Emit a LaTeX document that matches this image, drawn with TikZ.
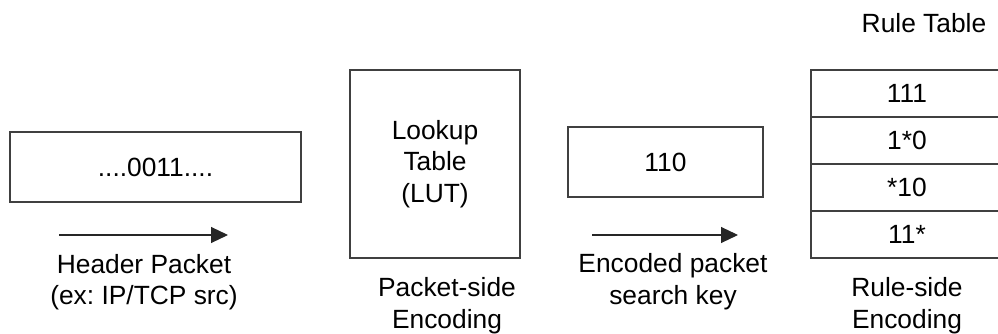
\documentclass[tikz,border=0pt]{standalone}
\usepackage{fontspec}
\setmainfont{Liberation Sans}
\usetikzlibrary{arrows.meta,positioning}
\frenchspacing

\begin{document}
\begin{tikzpicture}[x=0.02cm, y=-0.02cm,
    every node/.style={font=\fontsize{15}{18}\selectfont},
    box/.style={draw=black!75, line width=0.6pt, rectangle, inner sep=0pt},
    lbl/.style={align=center, inner sep=0pt},
    flow/.style={black!85, line width=0.6pt, -{Triangle[length=0.34cm, width=0.32cm]}}]
\useasboundingbox (0,0) rectangle (998,334);

% header packet
\node[box, minimum width=0.02cm*291, minimum height=0.02cm*70] (hdr) at (155.5,167) {....0011....};
\coordinate (hdrA) at (59,235);
\coordinate (hdrB) at (228,235);
\draw[flow] (hdrA) -- (hdrB);
\node[lbl] (hdrlbl) at (144,282) {Header Packet\\(ex: IP/TCP src)};

% packet-side encoding
\node[box, align=center, minimum width=0.02cm*170, minimum height=0.02cm*188] (lut) at (435,164) {Lookup\\Table\\(LUT)};
\node[lbl] (lutlbl) at (447,306) {Packet-side\\Encoding};

% search key
\node[box, minimum width=0.02cm*195, minimum height=0.02cm*70] (key) at (665.5,162) {110};
\coordinate (keyA) at (592,235);
\coordinate (keyB) at (738,235);
\draw[flow] (keyA) -- (keyB);
\node[lbl] (keylbl) at (673,282) {Encoded packet\\search key};

% rule table
\node[lbl] (ruletitle) at (924,23) {Rule Table};
\node[box, minimum width=0.02cm*192, minimum height=0.02cm*47] (rule1) at (907,93.5) {111};
\node[box, minimum width=0.02cm*192, minimum height=0.02cm*47] (rule2) at (907,140.5) {1*0};
\node[box, minimum width=0.02cm*192, minimum height=0.02cm*47] (rule3) at (907,187.5) {*10};
\node[box, minimum width=0.02cm*192, minimum height=0.02cm*47] (rule4) at (907,234.5) {11*};
\node[lbl] (rulelbl) at (907,306) {Rule-side\\Encoding};
\end{tikzpicture}
\end{document}
